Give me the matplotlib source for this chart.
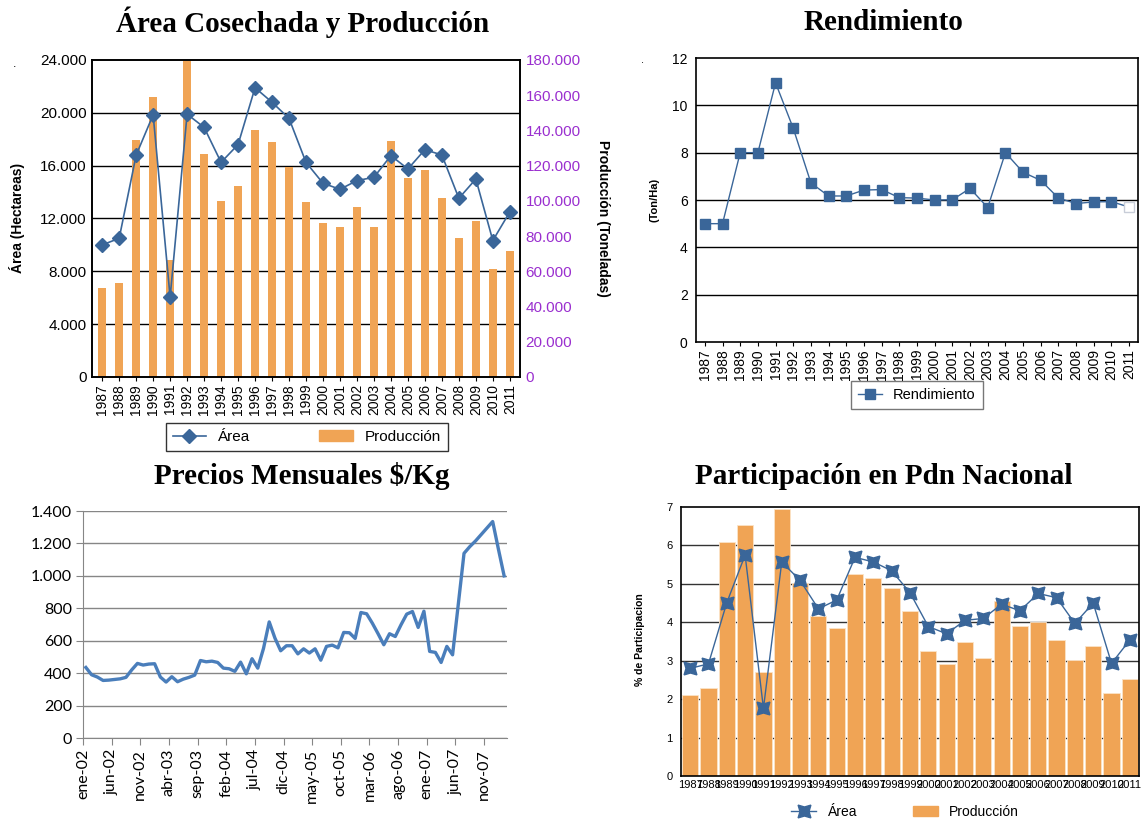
import numpy as np
import matplotlib
matplotlib.use("Agg")
from matplotlib import pyplot as plt

#
# Data
#
years = ['1987', '1988', '1989', '1990', '1991', '1992', '1993', '1994', '1995',
         '1996', '1997', '1998', '1999', '2000', '2001', '2002', '2003', '2004',
         '2005', '2006', '2007', '2008', '2009', '2010', '2011']

area_ha = [10000, 10500, 16800, 19850, 6050, 19900, 18900, 16250, 17600,
           21900, 20800, 19580, 16250, 14670, 14210, 14870, 15120, 16760,
           15750, 17210, 16810, 13530, 14990, 10330, 12500]

produccion_ton = [50500, 53100, 134400, 158800, 66200, 179300, 126700, 100200, 108500,
                  140500, 133700, 119100, 99100, 87700, 85300, 96800, 85300, 133900,
                  113100, 117400, 101700, 78900, 88300, 61300, 71300]

rendimiento = [5.0, 5.0, 8.0, 8.0, 10.95, 9.03, 6.72, 6.17, 6.17,
               6.42, 6.44, 6.10, 6.08, 6.00, 6.01, 6.49, 5.68, 8.0,
               7.17, 6.83, 6.08, 5.85, 5.92, 5.93, 5.70]

# monthly prices ene-02 .. feb-08
precios = [435, 390, 376, 355, 357, 361, 365, 374, 420, 460,
           450, 456, 458, 376, 345, 378, 347, 363, 374, 388,
           478, 470, 474, 466, 431, 427, 411, 468, 396, 489,
           431, 552, 716, 616, 538, 569, 569, 519, 550, 524,
           550, 480, 565, 573, 556, 651, 649, 614, 774, 766,
           708, 643, 575, 643, 626, 698, 764, 780, 682, 782,
           534, 528, 466, 565, 513, 825, 1139, 1180, 1215, 1255,
           1295, 1335, 1165, 1000]
mes_ticks = ['ene-02', 'jun-02', 'nov-02', 'abr-03', 'sep-03', 'feb-04', 'jul-04',
             'dic-04', 'may-05', 'oct-05', 'mar-06', 'ago-06', 'ene-07', 'jun-07', 'nov-07']

part_prod = [2.10, 2.30, 6.10, 6.54, 2.70, 6.96, 5.02, 4.17, 3.85,
             5.26, 5.15, 4.90, 4.29, 3.25, 2.91, 3.50, 3.06, 4.56,
             3.90, 4.02, 3.55, 3.02, 3.38, 2.16, 2.52]
part_area = [2.80, 2.92, 4.51, 5.75, 1.76, 5.57, 5.09, 4.35, 4.58,
             5.69, 5.57, 5.34, 4.77, 3.89, 3.70, 4.05, 4.10, 4.47,
             4.30, 4.75, 4.64, 3.97, 4.50, 2.93, 3.54]

area_ticks = ['0', '4.000', '8.000', '12.000', '16.000', '20.000', '24.000']
prod_ticks = ['0', '20.000', '40.000', '60.000', '80.000', '100.000', '120.000',
              '140.000', '160.000', '180.000']
precio_ticks = ['0', '200', '400', '600', '800', '1.000', '1.200', '1.400']

BLUE = '#3A6699'
ORANGE = '#F0A455'
PURPLE = '#9A2FCF'
W, H = 1143, 822


def rect(l, t, r, b):
    return [l / W, 1 - b / H, (r - l) / W, (b - t) / H]


plt.rcParams['font.family'] = ['Liberation Sans', 'DejaVu Sans']
fig = plt.figure(figsize=(W / 100, H / 100), dpi=100)
title_kw = dict(family='Liberation Serif', fontweight='bold', fontsize=21,
                ha='center', va='center')

#
# Top left: area and production
#
x = np.arange(len(years))
ax1 = fig.add_axes(rect(92, 60, 520, 377))
ax2 = ax1.twinx()
ax2.bar(x, produccion_ton, width=0.45, color=ORANGE, zorder=2)
ax2.set_ylim(0, 180000)
ax2.set_yticks(np.arange(len(prod_ticks)) * 20000)
ax2.set_yticklabels(prod_ticks, color=PURPLE, fontsize=11)
ax2.tick_params(axis='y', length=0, pad=4)
ax1.set_zorder(ax2.get_zorder() + 1)
ax1.patch.set_visible(False)
ax1.plot(x, area_ha, color=BLUE, lw=1.2, marker='D', ms=7.5, zorder=4)
ax1.set_ylim(0, 24000)
ax1.set_xlim(-0.6, len(years) - 0.4)
ax1.set_yticks(np.arange(len(area_ticks)) * 4000)
ax1.set_yticklabels(area_ticks, fontsize=11)
ax1.tick_params(axis='y', length=0, pad=4)
ax1.set_xticks(x)
ax1.set_xticklabels(years, rotation=90, fontsize=10)
ax1.tick_params(axis='x', length=3, pad=2)
# grid of the left axis, drawn behind the bars
for v in range(4000, 24000, 4000):
    ax2.axhline(v * 7.5, color='black', lw=1, zorder=1)
for ax in (ax1, ax2):
    for s in ax.spines.values():
        s.set_color('black')
        s.set_linewidth(1.2)
fig.text(303 / W, 1 - 22 / H, 'Área Cosechada y Producción', **title_kw)
fig.text(17 / W, 1 - 218 / H, 'Área (Hectareas)', rotation=90, fontsize=10,
         fontweight='bold', ha='center', va='center')
fig.text(603 / W, 1 - 218 / H, 'Producción (Toneladas)', rotation=-90, fontsize=10,
         fontweight='bold', ha='center', va='center')
fig.text(15 / W, 1 - 64 / H, '.', fontsize=9, ha='center', va='center')
h1, = ax1.plot([], [], color=BLUE, lw=1.2, marker='D', ms=7.5)
h2 = plt.Rectangle((0, 0), 1, 1, color=ORANGE)
leg = ax1.legend([h1, h2], ['Área', 'Producción'], ncol=2, loc='center',
                 bbox_to_anchor=(307 / W, 1 - 437 / H), bbox_transform=fig.transFigure,
                 fontsize=11, frameon=True, fancybox=False, edgecolor='black',
                 columnspacing=4.5, handlelength=2.2, borderpad=0.45)
leg.get_frame().set_linewidth(1)

#
# Top right: yield
#
ax3 = fig.add_axes(rect(696, 58, 1138, 342))
ax3.plot(x[:-1], rendimiento[:-1], color=BLUE, lw=1, marker='s', ms=7.5, zorder=3)
ax3.plot(x[-2:], rendimiento[-2:], color=BLUE, lw=1, zorder=3)
ax3.plot(x[-1:], rendimiento[-1:], ls='none', marker='s', ms=7.5,
         mfc='white', mec='#C8CDD8', zorder=3)
ax3.set_ylim(0, 12)
ax3.set_xlim(-0.5, len(years) - 0.5)
ax3.set_yticks(range(0, 13, 2))
ax3.tick_params(axis='y', length=0, labelsize=10, pad=6)
ax3.set_xticks(x)
ax3.set_xticklabels(years, rotation=90, fontsize=10)
ax3.tick_params(axis='x', length=3, pad=2)
for v in range(2, 12, 2):
    ax3.axhline(v, color='black', lw=1, zorder=1)
for s in ax3.spines.values():
    s.set_linewidth(1.2)
fig.text(884 / W, 1 - 22 / H, 'Rendimiento', **title_kw)
fig.text(655 / W, 1 - 200 / H, '(Ton/Ha)', rotation=90, fontsize=8,
         fontweight='bold', ha='center', va='center')
fig.text(643 / W, 1 - 60 / H, '.', fontsize=8, ha='center', va='center')
h3, = ax3.plot([], [], color=BLUE, lw=1, marker='s', ms=7.5)
leg3 = ax3.legend([h3], ['Rendimiento'], loc='center',
                  bbox_to_anchor=(917 / W, 1 - 395 / H), bbox_transform=fig.transFigure,
                  fontsize=10.5, frameon=True, fancybox=False, edgecolor='#555555',
                  handlelength=1.6, borderpad=0.5)
leg3.get_frame().set_linewidth(1)

#
# Bottom left: monthly prices
#
ax4 = fig.add_axes(rect(83, 511, 507, 738))
m = np.arange(len(precios))
ax4.plot(m, precios, color='#4A7EBB', lw=2.4, zorder=3)
ax4.set_xlim(-0.5, len(precios) - 0.5)
ax4.set_ylim(0, 1400)
ax4.set_yticks(range(0, 1401, 200))
ax4.set_yticklabels(precio_ticks, family='Lato', fontsize=11.5)
ax4.set_xticks(np.arange(len(mes_ticks)) * 5 - 0.5)
ax4.set_xticklabels(mes_ticks, rotation=90, family='Lato', fontsize=11.5)
ax4.tick_params(axis='both', length=5, color='#868686', pad=3)
ax4.grid(axis='y', color='#868686', lw=1)
ax4.set_axisbelow(True)
for s in ('top', 'right'):
    ax4.spines[s].set_visible(False)
for s in ('left', 'bottom'):
    ax4.spines[s].set_color('#868686')
fig.text(302 / W, 1 - 476 / H, 'Precios Mensuales $/Kg', **title_kw)

#
# Bottom right: national share
#
ax5 = fig.add_axes(rect(681, 507, 1139, 776))
ax5.bar(x, part_prod, width=0.88, color=ORANGE, edgecolor='#FBE3C8', lw=0.6, zorder=2)
ax5.plot(x, part_area, color=BLUE, lw=1, marker=(4, 1, 45), ms=13, zorder=3)
ax5.set_xlim(-0.5, len(years) - 0.5)
ax5.set_ylim(0, 7)
ax5.set_yticks(range(0, 8))
ax5.tick_params(axis='y', length=0, labelsize=8, pad=6)
ax5.set_xticks(x)
ax5.set_xticklabels(years, fontsize=8)
ax5.tick_params(axis='x', length=0, pad=3)
for v in range(1, 7):
    ax5.axhline(v, color='#333333', lw=1, zorder=1)
for s in ax5.spines.values():
    s.set_linewidth(1.2)
fig.text(884 / W, 1 - 476 / H, 'Participación en Pdn Nacional', **title_kw)
fig.text(640 / W, 1 - 640 / H, '% de Participacion', rotation=90, fontsize=7.5,
         fontweight='bold', ha='center', va='center')
h5, = ax5.plot([], [], color=BLUE, lw=1, marker=(4, 1, 45), ms=13)
h6 = plt.Rectangle((0, 0), 1, 1, color=ORANGE)
ax5.legend([h5, h6], ['Área', 'Producción'], ncol=2, loc='center',
           bbox_to_anchor=(905 / W, 1 - 812 / H), bbox_transform=fig.transFigure,
           fontsize=10, frameon=False, columnspacing=4, handlelength=1.8)

fig.savefig('out.png', dpi=100)
